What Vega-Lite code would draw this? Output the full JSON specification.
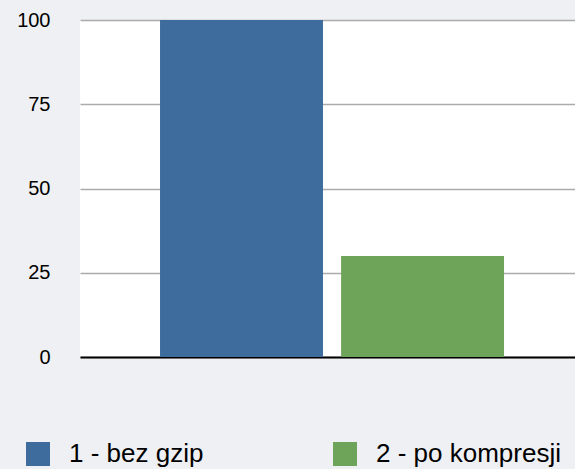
{
  "$schema": "https://vega.github.io/schema/vega-lite/v6.json",
  "width": 495,
  "height": 337,
  "autosize": "none",
  "padding": {"left": 80, "top": 20, "right": 0, "bottom": 112},
  "background": "#eff0f3",
  "config": {
    "view": {"fill": "white", "stroke": null},
    "font": "Liberation Sans"
  },
  "data": {
    "values": [
      {"kategorie": "1 - bez gzip", "hodnota": 100},
      {"kategorie": "2 - po kompresji", "hodnota": 30}
    ]
  },
  "mark": {"type": "bar"},
  "encoding": {
    "x": {
      "field": "kategorie",
      "type": "nominal",
      "scale": {"paddingInner": 0.1, "paddingOuter": 0.417, "align": 0.53},
      "axis": {
        "title": null,
        "labels": false,
        "ticks": false,
        "domain": true,
        "domainColor": "black",
        "domainWidth": 2
      }
    },
    "y": {
      "field": "hodnota",
      "type": "quantitative",
      "scale": {"domain": [0, 100]},
      "axis": {
        "title": null,
        "values": [0, 25, 50, 75, 100],
        "ticks": false,
        "domain": false,
        "gridColor": "#ababab",
        "gridWidth": 1.5,
        "labelFontSize": 20,
        "labelColor": "black",
        "labelPadding": 30
      }
    },
    "color": {
      "field": "kategorie",
      "type": "nominal",
      "scale": {"range": ["#3d6c9d", "#6ea45a"]},
      "legend": {
        "title": null,
        "orient": "none",
        "legendX": -55,
        "legendY": 421,
        "direction": "horizontal",
        "columns": 2,
        "columnPadding": 128,
        "padding": 0,
        "symbolType": "square",
        "symbolSize": 576,
        "symbolStrokeWidth": 0,
        "symbolOpacity": 1,
        "labelFontSize": 26,
        "labelColor": "black",
        "labelOffset": 18,
        "labelLimit": 400
      }
    }
  }
}
